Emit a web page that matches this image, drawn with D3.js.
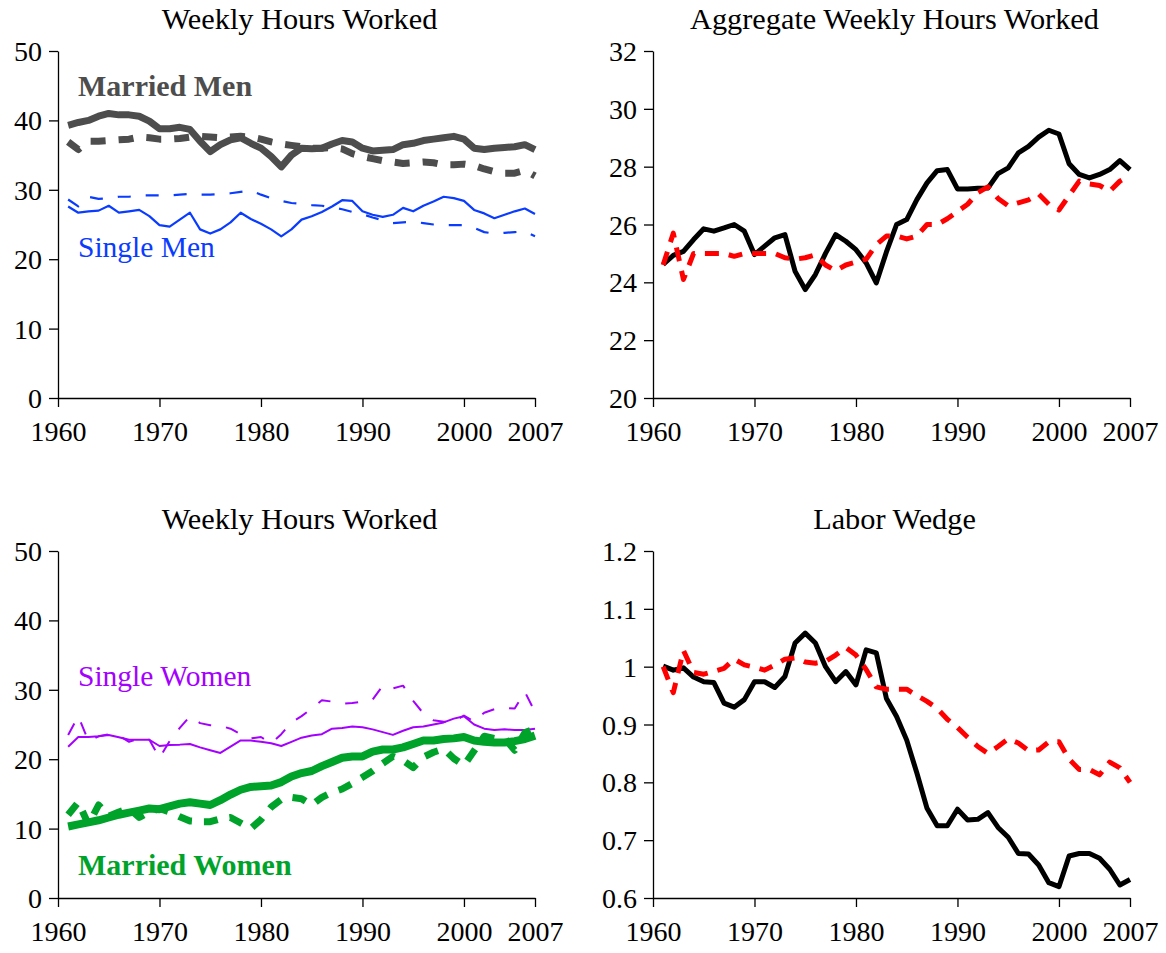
<!DOCTYPE html>
<html><head><meta charset="utf-8">
<script src="https://cdn.jsdelivr.net/npm/d3@7"></script>
<style>body{margin:0;background:#fff}svg{display:block}svg text{font-family:'Liberation Serif','Times New Roman',serif;}</style>
</head><body><svg id="c" width="1166" height="953"></svg>
<script>
const years = [1961,1962,1963,1964,1965,1966,1967,1968,1969,1970,
  1971,1972,1973,1974,1975,1976,1977,1978,1979,1980,
  1981,1982,1983,1984,1985,1986,1987,1988,1989,1990,
  1991,1992,1993,1994,1995,1996,1997,1998,1999,2000,
  2001,2002,2003,2004,2005,2006,2007];
const xTicks = [1960,1970,1980,1990,2000,2007];
const hoursTicks = [0,10,20,30,40,50];
const aggTicks = [20,22,24,26,28,30,32];
const wedgeTicks = [0.6,0.7,0.8,0.9,1.0,1.1,1.2];

const marriedMenData = [39.3,39.7,40.0,40.6,41.0,40.8,40.8,40.6,39.9,38.8,
  38.8,39.0,38.7,37.0,35.5,36.5,37.2,37.5,36.7,36.0,
  34.8,33.3,35.0,36.0,35.9,36.0,36.6,37.1,36.9,36.0,
  35.6,35.7,35.8,36.5,36.7,37.1,37.3,37.5,37.7,37.3,
  36.0,35.8,36.0,36.1,36.2,36.5,35.8];
const marriedMenModel = [36.9,35.8,37.0,37.0,37.1,37.2,37.3,37.6,37.5,37.3,
  37.3,37.4,37.6,37.7,37.6,37.5,37.6,37.7,37.6,37.3,
  36.9,36.6,36.4,36.2,36.0,36.0,36.1,35.9,35.2,34.8,
  34.5,34.2,34.0,33.8,33.9,34.0,33.9,33.6,33.6,33.7,
  33.5,33.0,32.6,32.4,32.4,32.8,32.0];
const singleMenData = [27.6,26.7,26.9,27.0,27.7,26.7,26.9,27.1,26.2,24.9,
  24.7,25.7,26.7,24.3,23.7,24.3,25.3,26.7,25.8,25.1,
  24.3,23.3,24.3,25.7,26.2,26.8,27.6,28.5,28.4,26.9,
  26.4,26.1,26.4,27.4,26.9,27.7,28.3,29.0,28.8,28.4,
  27.1,26.6,25.9,26.4,26.9,27.3,26.5];
const singleMenModel = [28.6,27.6,29.0,28.7,28.8,29.0,29.0,29.2,29.2,29.2,
  29.2,29.3,29.4,29.3,29.3,29.4,29.5,29.7,29.9,29.3,
  28.8,28.4,28.1,28.0,27.8,27.7,27.5,27.2,26.8,26.5,
  26.0,25.6,25.2,25.3,25.4,25.2,25.0,24.9,24.9,24.9,
  24.5,23.9,23.7,23.8,23.9,24.0,23.3];
const aggData = [24.62,24.93,25.07,25.48,25.85,25.77,25.88,26.0,25.77,24.96,
  25.25,25.54,25.65,24.38,23.75,24.27,25.0,25.65,25.42,25.13,
  24.67,23.98,25.05,26.0,26.17,26.86,27.44,27.86,27.9,27.23,
  27.23,27.25,27.26,27.76,27.96,28.48,28.7,29.02,29.26,29.13,
  28.1,27.73,27.61,27.73,27.9,28.21,27.9];
const aggModel = [24.6,25.7,24.1,25.0,25.0,25.0,25.0,24.9,25.0,25.0,
  25.0,25.0,24.85,24.8,24.85,24.95,24.6,24.4,24.6,24.7,
  24.8,25.3,25.6,25.6,25.5,25.6,26.0,26.0,26.2,26.45,
  26.7,27.1,27.3,26.9,26.65,26.75,26.85,27.05,26.7,26.5,
  27.0,27.5,27.4,27.35,27.15,27.5,27.7];
const singleWomenData = [21.8,23.2,23.2,23.3,23.5,23.15,22.8,22.8,22.8,21.9,
  22.05,22.1,22.2,21.7,21.3,20.9,21.8,22.7,22.7,22.5,
  22.3,21.9,22.5,23.1,23.4,23.6,24.4,24.5,24.7,24.6,
  24.3,23.9,23.5,24.1,24.6,24.7,25.0,25.3,25.85,26.2,
  25.0,24.4,24.2,24.3,24.2,24.2,24.4];
const singleWomenModel = [23.5,26.2,22.6,23.3,23.6,23.4,22.5,23.0,22.8,20.2,
  22.6,24.5,26.2,25.2,24.9,24.8,24.4,23.6,23.0,23.2,
  22.3,23.6,25.3,26.2,27.3,28.5,28.3,28.0,28.1,28.3,
  28.6,30.6,30.2,30.6,28.4,26.6,25.6,25.4,25.4,26.3,
  25.4,26.7,27.2,27.4,27.3,29.7,26.8];
const marriedWomenData = [10.3,10.6,10.9,11.2,11.6,12.0,12.3,12.6,12.9,12.8,
  13.2,13.6,13.8,13.6,13.4,14.1,14.9,15.6,16.0,16.1,
  16.2,16.7,17.5,18.0,18.3,19.0,19.6,20.2,20.4,20.4,
  21.1,21.4,21.4,21.7,22.2,22.7,22.7,22.9,23.0,23.2,
  22.7,22.5,22.4,22.4,22.6,22.9,23.4];
const marriedWomenModel = [12.0,13.8,10.6,13.4,11.8,12.4,12.9,11.6,12.4,12.9,
  12.4,11.7,11.1,11.0,11.0,11.4,11.6,10.8,10.0,11.3,
  13.1,14.2,14.5,14.3,13.4,14.5,15.2,15.7,16.5,17.4,
  18.3,19.4,20.4,19.8,18.8,20.3,21.0,21.5,20.1,19.1,
  21.2,23.3,23.0,23.0,21.3,23.8,24.4];
const wedgeData = [1.001,0.994,0.998,0.982,0.974,0.9725,0.937,0.930,0.943,0.974,
  0.974,0.964,0.983,1.041,1.058,1.041,1.0,0.974,0.9915,0.9685,
  1.029,1.024,0.945,0.914,0.873,0.816,0.755,0.725,0.725,0.7535,
  0.735,0.736,0.7476,0.722,0.705,0.677,0.676,0.657,0.6265,0.6196,
  0.6727,0.677,0.677,0.6687,0.6497,0.6225,0.632];
const wedgeModel = [1.0,0.955,1.028,0.99,0.987,0.992,0.997,1.013,1.003,0.999,
  0.994,1.003,1.013,1.015,1.008,1.006,1.009,1.02,1.033,1.02,
  0.995,0.965,0.961,0.961,0.961,0.95,0.94,0.928,0.909,0.895,
  0.878,0.862,0.85,0.862,0.875,0.868,0.855,0.856,0.87,0.87,
  0.84,0.822,0.822,0.813,0.835,0.825,0.80];

const svg = d3.select('#c');
const GRAY = '#4d4d4d', BLUE = '#0a3cff', PURPLE = '#a400ff', GREEN = '#00a32a';

function panel(o) {
  const g = svg.append('g');
  const x = d3.scaleLinear().domain([1960, 2007]).range([o.x0, o.x1]);
  const y = d3.scaleLinear().domain(o.domain).range([o.yb, o.yt]);
  const xa = g.append('g').attr('transform', `translate(0,${o.yb})`)
    .call(d3.axisBottom(x).tickValues(xTicks).tickFormat(d3.format('d')).tickSize(9).tickSizeOuter(0).tickPadding(14));
  const ya = g.append('g').attr('transform', `translate(${o.x0},0)`)
    .call(d3.axisLeft(y).tickValues(o.ticks).tickFormat(o.fmt).tickSize(9).tickSizeOuter(0).tickPadding(7));
  [xa, ya].forEach(a => {
    a.attr('font-family', null).attr('font-size', null);
    a.selectAll('path,line').attr('stroke', '#000').attr('stroke-width', 1.3);
    a.selectAll('text').style('font-size', '28px').attr('fill', '#000');
  });
  ya.selectAll('text').attr('dy', '0.34em');
  g.append('text').attr('x', (o.x0 + o.x1) / 2 + 3).attr('y', o.yt - 22)
    .attr('text-anchor', 'middle').style('font-size', '30.3px')
    .text(o.title);
  const line = d3.line().x((d, i) => x(years[i])).y(d => y(d));
  o.series.forEach(s => {
    g.append('path').datum(s.values).attr('d', line).attr('fill', 'none')
      .attr('stroke', s.color).attr('stroke-width', s.width)
      .attr('stroke-linejoin', 'round')
      .attr('stroke-dasharray', s.dash || null);
  });
  (o.labels || []).forEach(l => {
    g.append('text').attr('x', l.x).attr('y', l.y)
      .style('font-size', l.size + 'px').style('font-weight', l.bold ? 'bold' : 'normal')
      .attr('fill', l.color).text(l.text);
  });
}

const fmtInt = d3.format('d');
panel({x0: 58, x1: 535, yb: 398, yt: 51, domain: [0, 50], ticks: hoursTicks, fmt: fmtInt,
  title: 'Weekly Hours Worked',
  series: [
    {values: marriedMenData, color: GRAY, width: 7},
    {values: marriedMenModel, color: GRAY, width: 7, dash: '15,13'},
    {values: singleMenData, color: BLUE, width: 2.2},
    {values: singleMenModel, color: BLUE, width: 2.2, dash: '13,15'}
  ],
  labels: [
    {text: 'Married Men', x: 78, y: 96, size: 30, bold: true, color: GRAY},
    {text: 'Single Men', x: 78, y: 257, size: 29.5, color: BLUE}
  ]});
panel({x0: 653, x1: 1130, yb: 398, yt: 51, domain: [20, 32], ticks: aggTicks, fmt: fmtInt,
  title: 'Aggregate Weekly Hours Worked',
  series: [
    {values: aggData, color: '#000', width: 5},
    {values: aggModel, color: '#ff0000', width: 5, dash: '14,10'}
  ]});
panel({x0: 58, x1: 535, yb: 898, yt: 551, domain: [0, 50], ticks: hoursTicks, fmt: fmtInt,
  title: 'Weekly Hours Worked',
  series: [
    {values: singleWomenData, color: PURPLE, width: 2},
    {values: singleWomenModel, color: PURPLE, width: 2, dash: '13,15'},
    {values: marriedWomenData, color: GREEN, width: 8},
    {values: marriedWomenModel, color: GREEN, width: 7, dash: '14,12'}
  ],
  labels: [
    {text: 'Single Women', x: 78, y: 686, size: 29.5, color: PURPLE},
    {text: 'Married Women', x: 78, y: 875, size: 30, bold: true, color: GREEN}
  ]});
panel({x0: 653, x1: 1130, yb: 898, yt: 551, domain: [0.6, 1.2], ticks: wedgeTicks,
  fmt: d => String(+d.toFixed(1)),
  title: 'Labor Wedge',
  series: [
    {values: wedgeData, color: '#000', width: 5},
    {values: wedgeModel, color: '#ff0000', width: 5, dash: '14,10'}
  ]});
</script>
</body></html>
